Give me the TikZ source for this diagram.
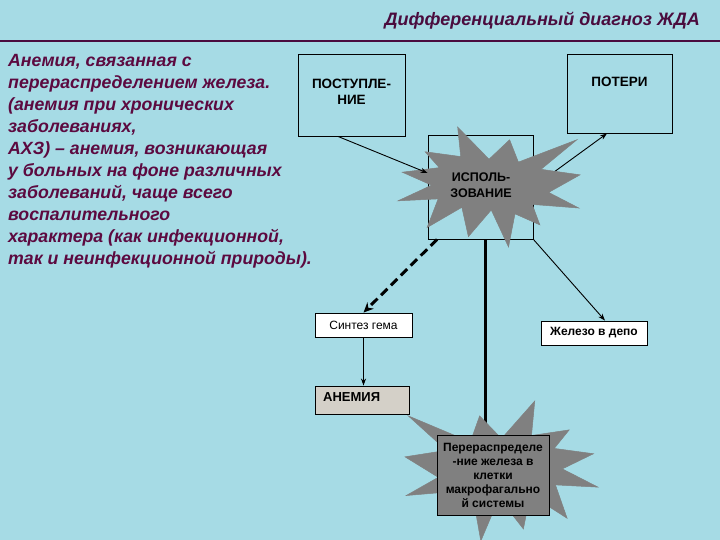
\documentclass[tikz,border=0pt]{standalone}
\usepackage{fontspec}
\setmainfont{Liberation Sans}
\usetikzlibrary{arrows.meta}
\definecolor{bgc}{RGB}{166,219,229}
\definecolor{titlec}{RGB}{74,12,62}
\definecolor{descc}{RGB}{92,10,64}
\definecolor{starc}{RGB}{128,128,128}
\definecolor{anemc}{RGB}{212,208,200}
\tikzset{
  box/.style={draw=black, line width=0.9pt, inner sep=0pt},
  lbl/.style={font=\fontsize{13.5}{16}\selectfont\bfseries, align=center, inner sep=0pt},
  arr/.style={line width=0.9pt, -{Stealth[length=7pt,width=5pt]}},
  starshape/.style={fill=starc, draw=starc, line width=0.5pt}
}
\newcommand{\sealpath}{(50.00,26.85) -- (67.23,0) -- (65.53,24.65) -- (85.09,20.63) -- (77.32,33.87) -- (97.67,37.67) -- (81.51,48.50) -- (100,61.53) -- (77.95,59.92) -- (84.00,83.77) -- (64.91,66.93) -- (61.33,91.38) -- (48.76,69.14) -- (39.28,100) -- (35.72,72.35) -- (22.05,81.56) -- (26.24,64.52) -- (0.63,67.53) -- (17.23,54.51) -- (0,39.88) -- (21.42,35.26) -- (1.71,10.63) -- (33.85,29.26) -- (38.67,10.63) -- cycle}
\begin{document}
\begin{tikzpicture}[x=1pt,y=-1pt]
\useasboundingbox (0,0) rectangle (720,540);
\fill[bgc] (0,0) rectangle (720,540);
% title
\node[anchor=base east, inner sep=0pt, text=titlec, font=\fontsize{18}{20}\selectfont\bfseries\itshape] (title) at (700,26) {Дифференциальный диагноз ЖДА};
\coordinate (ruleL) at (0,41);
\coordinate (ruleR) at (720,41);
\draw[titlec, line width=2.5pt] (ruleL) -- (ruleR);
% description
\node[anchor=north west, inner sep=0pt, align=left, text=descc, font=\fontsize{17.7}{22}\selectfont\bfseries\itshape] (desc) at (8,54) {Анемия, связанная с\\перераспределением железа.\\(анемия при хронических\\заболеваниях,\\АХЗ) – анемия, возникающая\\у больных на фоне различных\\заболеваний, чаще всего\\воспалительного\\характера (как инфекционной,\\так и неинфекционной природы).};
% boxes
\node[box, minimum width=107pt, minimum height=82pt] (post) at (351.5,95) {};
\node[lbl] (posttext) at (351.5,92) {ПОСТУПЛЕ-\\НИЕ};
\node[box, minimum width=105pt, minimum height=79pt] (pot) at (619.5,93.5) {};
\node[lbl] (pottext) at (619.5,82) {ПОТЕРИ};
\node[box, minimum width=105pt, minimum height=104pt] (isp) at (480.5,187) {};
\node[box, fill=white, minimum width=97pt, minimum height=24pt] (sint) at (363.5,325) {};
\node[box, fill=white, minimum width=106pt, minimum height=24pt] (depo) at (594,333) {};
\node[box, fill=anemc, minimum width=94pt, minimum height=28pt] (anem) at (362,400) {};
% connectors under the star
\draw[arr] (isp.east) -- ([xshift=-12.5pt]pot.south);
\draw[line width=3pt, dash pattern=on 9pt off 5pt, -{Stealth[length=10pt,width=9pt]}] ([xshift=-43.5pt]isp.south) -- (sint.north);
\draw[line width=3pt] ([xshift=4.5pt]isp.south) -- (485,436);
\draw[arr] (isp.south east) -- ([xshift=11pt]depo.north);
\draw[arr] (sint.south) -- (sint.south |- anem.north);
% star 1 (mirrored)
\begin{scope}[shift={(580,127)}, xscale=-1.82, yscale=1.2]
\filldraw[starshape] \sealpath;
\end{scope}
\draw[arr] ([xshift=-13.5pt]post.south) -- ([yshift=14pt]isp.west);
\node[lbl, font=\fontsize{12.5}{16}\selectfont\bfseries] (isptext) at (481,185) {ИСПОЛЬ-\\ЗОВАНИЕ};
% texts of small boxes
\node[font=\fontsize{12}{14}\selectfont, inner sep=0pt] (sinttext) at (sint.center) {Синтез гема};
\node[font=\fontsize{12}{14}\selectfont\bfseries, inner sep=0pt] (depotext) at (depo.center) {Железо в депо};
\node[font=\fontsize{13}{15}\selectfont\bfseries, anchor=west, inner sep=0pt] (anemtext) at (323,397) {АНЕМИЯ};
% star 2
\begin{scope}[shift={(405,401)}, xscale=1.93, yscale=1.40]
\filldraw[starshape] \sealpath;
\end{scope}
\node[box, fill=starc, minimum width=112pt, minimum height=80pt] (perer) at (493,475) {};
\node[lbl, font=\fontsize{12}{14}\selectfont\bfseries] (perertext) at (493,475) {Перераспределе\\-ние железа в\\клетки\\макрофагально\\й системы};
\end{tikzpicture}
\end{document}
